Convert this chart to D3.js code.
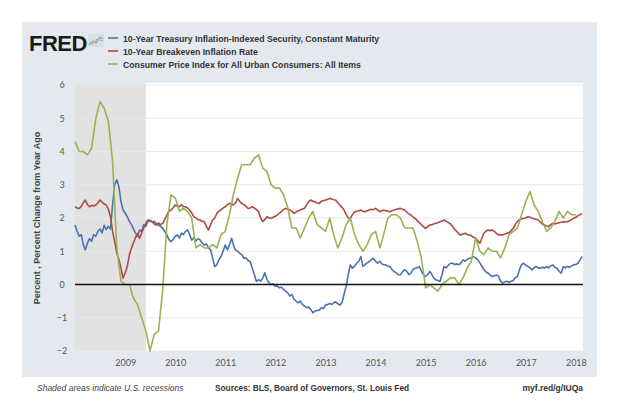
<!DOCTYPE html>
<html><head><meta charset="utf-8">
<script src="https://cdn.jsdelivr.net/npm/d3@7"></script>
<style>body{margin:0;background:#fff}svg{display:block}</style>
</head><body>
<script>
// ---------- DATA ----------
const seriesNames = [
  "10-Year Treasury Inflation-Indexed Security, Constant Maturity",
  "10-Year Breakeven Inflation Rate",
  "Consumer Price Index for All Urban Consumers: All Items"
];
const yTicks = [-2, -1, 0, 1, 2, 3, 4, 5, 6];
const xTickYears = [2009, 2010, 2011, 2012, 2013, 2014, 2015, 2016, 2017, 2018];
const recession = ["2008-01-01", "2009-06-01"];
// semi-monthly observations starting 2008-01-01
const dailyStart = "2008-01-01";
const tipsValues = [
1.79,1.6,1.45,1.5,1.2,1.04,1.25,1.38,1.3,1.5,1.45,1.6,1.67,1.55,1.78,1.65,1.75,1.67,2.4,3.0,3.15,2.94,2.5,2.25,
2.15,2.04,1.9,1.8,1.69,1.55,1.44,1.64,1.6,1.8,1.75,1.9,1.94,1.88,1.9,1.84,1.78,1.75,1.69,1.6,1.5,1.35,1.29,1.35,
1.45,1.49,1.4,1.55,1.5,1.59,1.64,1.5,1.34,1.4,1.3,1.38,1.34,1.25,1.19,1.22,1.1,1.04,0.8,0.54,0.6,0.75,0.84,1.0,
1.19,1.04,1.2,1.39,1.2,1.04,1.0,0.94,0.9,0.79,0.8,0.72,0.69,0.5,0.3,0.09,0.15,0.1,0.2,0.35,0.15,0.05,0.0,0.02,
-0.05,-0.05,-0.1,-0.08,-0.15,-0.2,-0.25,-0.35,-0.3,-0.45,-0.5,-0.55,-0.5,-0.6,-0.65,-0.7,-0.68,-0.75,-0.85,-0.8,-0.78,-0.77,-0.7,-0.72,
-0.62,-0.6,-0.57,-0.6,-0.55,-0.52,-0.58,-0.62,-0.55,-0.3,-0.05,0.3,0.59,0.49,0.55,0.64,0.7,0.84,0.54,0.6,0.65,0.69,0.75,0.79,
0.7,0.64,0.7,0.62,0.6,0.59,0.55,0.54,0.45,0.39,0.35,0.3,0.29,0.38,0.44,0.4,0.3,0.34,0.45,0.49,0.5,0.54,0.4,0.3,
0.24,0.3,0.39,0.3,0.2,0.14,0.12,0.09,0.3,0.54,0.5,0.58,0.64,0.64,0.6,0.62,0.59,0.65,0.74,0.7,0.76,0.79,0.8,0.84,
0.8,0.74,0.65,0.54,0.45,0.38,0.34,0.28,0.24,0.26,0.29,0.25,0.1,0.04,0.08,0.1,0.06,0.1,0.12,0.2,0.24,0.45,0.6,0.64,
0.58,0.54,0.5,0.44,0.5,0.54,0.5,0.49,0.52,0.49,0.54,0.5,0.56,0.59,0.52,0.49,0.4,0.34,0.54,0.5,0.54,0.52,0.56,0.59,
0.6,0.64,0.75,0.84
];
const breakevenValues = [
2.34,2.3,2.29,2.35,2.45,2.54,2.4,2.34,2.38,2.36,2.39,2.45,2.54,2.48,2.42,2.39,2.25,2.04,1.6,1.3,0.94,0.75,0.5,0.19,
0.35,0.54,0.9,1.1,1.24,1.4,1.54,1.39,1.55,1.7,1.85,1.94,1.9,1.89,1.82,1.79,1.85,1.8,1.84,1.95,2.09,2.2,2.24,2.3,
2.39,2.35,2.34,2.4,2.34,2.34,2.3,2.24,2.15,2.04,2.0,1.95,1.94,1.9,1.89,1.75,1.64,1.8,1.94,2.0,2.14,2.2,2.25,2.3,
2.34,2.4,2.44,2.42,2.39,2.45,2.59,2.5,2.44,2.4,2.35,2.29,2.3,2.34,2.3,2.25,2.19,2.0,1.89,1.95,2.04,2.0,1.99,2.02,
2.05,2.09,2.15,2.2,2.25,2.29,2.26,2.24,2.2,2.14,2.18,2.22,2.24,2.27,2.29,2.4,2.5,2.54,2.5,2.49,2.45,2.44,2.5,2.52,
2.54,2.56,2.59,2.57,2.55,2.54,2.45,2.39,2.32,2.24,2.1,2.0,1.99,2.1,2.19,2.2,2.22,2.24,2.2,2.19,2.22,2.24,2.26,2.25,
2.29,2.24,2.19,2.22,2.24,2.22,2.2,2.19,2.22,2.24,2.26,2.28,2.29,2.26,2.24,2.18,2.12,2.09,2.03,1.99,1.92,1.86,1.8,1.74,
1.69,1.74,1.79,1.8,1.82,1.84,1.86,1.89,1.91,1.94,1.9,1.86,1.82,1.75,1.66,1.6,1.52,1.49,1.52,1.54,1.5,1.49,1.47,1.42,
1.39,1.32,1.24,1.4,1.54,1.6,1.64,1.62,1.64,1.6,1.54,1.49,1.5,1.49,1.52,1.54,1.56,1.62,1.69,1.8,1.9,1.95,1.97,1.99,
2.0,2.04,2.02,1.99,1.98,1.96,1.94,1.88,1.82,1.79,1.76,1.74,1.8,1.84,1.82,1.84,1.86,1.87,1.89,1.88,1.89,1.92,1.95,1.99,
2.02,2.07,2.1,2.14
];
// monthly, starting 2008-01
const cpiStart = "2008-01-01";
const cpiValues = [
4.3,4.0,4.0,3.9,4.1,5.0,5.5,5.3,4.9,3.7,1.1,0.1,
0.0,0.0,-0.4,-0.6,-1.0,-1.4,-2.0,-1.5,-1.4,-0.2,1.8,2.7,
2.6,2.2,2.3,2.2,2.0,1.1,1.2,1.1,1.1,1.2,1.1,1.5,
1.6,2.1,2.7,3.2,3.6,3.6,3.6,3.8,3.9,3.5,3.4,3.0,
2.9,2.9,2.7,2.3,1.7,1.7,1.4,1.7,2.0,2.2,1.8,1.7,
1.6,2.0,1.5,1.1,1.4,1.8,2.0,1.5,1.2,1.0,1.2,1.5,
1.6,1.1,1.5,2.0,2.1,2.1,2.0,1.7,1.7,1.7,1.3,0.8,
-0.1,0.0,-0.1,-0.2,0.0,0.1,0.2,0.2,0.0,0.2,0.5,0.7,
1.4,1.0,0.9,1.1,1.0,1.0,0.8,1.1,1.5,1.6,1.7,2.1,
2.5,2.8,2.4,2.2,1.9,1.6,1.7,1.9,2.2,2.0,2.2,2.1,
2.1
];
const colors = ["#4a72b0", "#ae4a47", "#9ab252"];

// ---------- BUILD ----------
const W = 620, H = 414;
const svg = d3.select("body").append("svg").attr("width", W).attr("height", H);
const parse = d3.timeParse("%Y-%m-%d");
const semiDate = (start, i) => {
  const d0 = d3.timeMonth.offset(parse(start), Math.floor(i / 2));
  return i % 2 ? d3.timeDay.offset(d0, 15) : d0;
};
const tipsData = tipsValues.map((v, i) => ({d: semiDate(dailyStart, i), v}));
const beData = breakevenValues.map((v, i) => ({d: semiDate(dailyStart, i), v}));
const cpiData = cpiValues.map((v, i) => ({d: d3.timeMonth.offset(parse(cpiStart), i), v}));

const plot = {l: 75, r: 583, t: 85, b: 351};
const x = d3.scaleTime().domain([parse("2008-01-01"), parse("2018-02-22")]).range([plot.l, plot.r]);
const y = d3.scaleLinear().domain([-2, 6]).range([plot.b, plot.t]);

// panel
svg.append("rect").attr("x", 22).attr("y", 22).attr("width", 575).attr("height", 355).attr("fill", "#e4e9ef");
svg.append("rect").attr("x", plot.l).attr("y", plot.t - 2).attr("width", plot.r - plot.l).attr("height", plot.b - plot.t + 2).attr("fill", "#fff");

// recession
svg.append("rect").attr("x", x(parse(recession[0]))).attr("y", plot.t - 2)
  .attr("width", x(parse(recession[1])) - x(parse(recession[0]))).attr("height", plot.b - plot.t + 2)
  .attr("fill", "#e2e2e2");

// grid
svg.append("g").selectAll("line").data(yTicks).join("line")
  .attr("x1", plot.l).attr("x2", plot.r).attr("y1", d => y(d)).attr("y2", d => y(d))
  .attr("stroke", "#e7e9ec").attr("stroke-width", 1);

// y axis labels
const yAxis = d3.axisLeft(y).tickValues(yTicks).tickSize(0).tickPadding(0).tickFormat(d3.format("d"));
const gy = svg.append("g").attr("transform", `translate(${65},0)`).call(yAxis);
gy.select(".domain").remove();
gy.selectAll("text").attr("font-family", "Lato, 'Open Sans', sans-serif").attr("font-size", 9).attr("fill", "#555").attr("text-anchor", "middle").attr("x", -3);

// x axis labels
const xAxis = d3.axisBottom(x).tickValues(xTickYears.map(yy => new Date(yy, 0, 1))).tickSize(0).tickPadding(0).tickFormat(d3.timeFormat("%Y"));
const gx = svg.append("g").attr("transform", `translate(0,${360})`).call(xAxis);
gx.select(".domain").remove();
gx.selectAll("text").attr("font-family", "Lato, 'Open Sans', sans-serif").attr("font-size", 9).attr("fill", "#555").attr("dy", "0.71em");

// y title
svg.append("text").attr("transform", "translate(40,218) rotate(-90)")
  .attr("text-anchor", "middle").attr("font-family", "'Liberation Sans', Arial, sans-serif")
  .attr("font-weight", "bold").attr("font-size", 9).attr("fill", "#444")
  .text("Percent , Percent Change from Year Ago");

// lines
const line = d3.line().x(d => x(d.d)).y(d => y(d.v));
[tipsData, beData, cpiData].forEach((data, i) => {
  svg.append("path").datum(data).attr("d", line).attr("fill", "none")
    .attr("stroke", colors[i]).attr("stroke-width", 1.6).attr("stroke-linejoin", "round");
});

// zero line
svg.append("line").attr("x1", plot.l).attr("x2", plot.r).attr("y1", y(0)).attr("y2", y(0))
  .attr("stroke", "#111").attr("stroke-width", 1.5);

// logo
svg.append("text").attr("x", 29).attr("y", 51).attr("font-family", "'Liberation Sans', Arial, sans-serif")
  .attr("font-weight", "bold").attr("font-size", 22).attr("fill", "#1a1a1a").attr("letter-spacing", -0.5).text("FRED");
const icon = svg.append("g").attr("transform", "translate(88,34)");
icon.append("rect").attr("width", 16).attr("height", 13).attr("fill", "#d9dee6");
icon.append("path").attr("d", "M1,11 L5,7 L8,9 L12,3 L15,5").attr("fill", "none").attr("stroke", "#8aa0c0").attr("stroke-width", 1.2);
icon.append("path").attr("d", "M1,9 L5,10 L9,5 L15,7").attr("fill", "none").attr("stroke", "#a8b888").attr("stroke-width", 1);

// legend
const legY = [38, 51, 64];
seriesNames.forEach((name, i) => {
  svg.append("line").attr("x1", 108).attr("x2", 118).attr("y1", legY[i]).attr("y2", legY[i])
    .attr("stroke", colors[i]).attr("stroke-width", 1.6);
  svg.append("text").attr("x", 123).attr("y", legY[i] + 3.5)
    .attr("font-family", "'Liberation Sans', Arial, sans-serif").attr("font-weight", "bold")
    .attr("font-size", 8.7).attr("fill", "#333").text(name);
});

// footer
const ff = "'Liberation Sans', Arial, sans-serif";
svg.append("text").attr("x", 37).attr("y", 391).attr("font-family", ff).attr("font-style", "italic")
  .attr("font-size", 8.5).attr("fill", "#444").text("Shaded areas indicate U.S. recessions");
svg.append("text").attr("x", 215).attr("y", 391).attr("font-family", ff).attr("font-weight", "bold")
  .attr("font-size", 8.3).attr("fill", "#333").text("Sources: BLS, Board of Governors, St. Louis Fed");
svg.append("text").attr("x", 583).attr("y", 391).attr("text-anchor", "end").attr("font-family", ff).attr("font-weight", "bold")
  .attr("font-size", 8.5).attr("fill", "#333").text("myf.red/g/IUQa");
</script>
</body></html>
